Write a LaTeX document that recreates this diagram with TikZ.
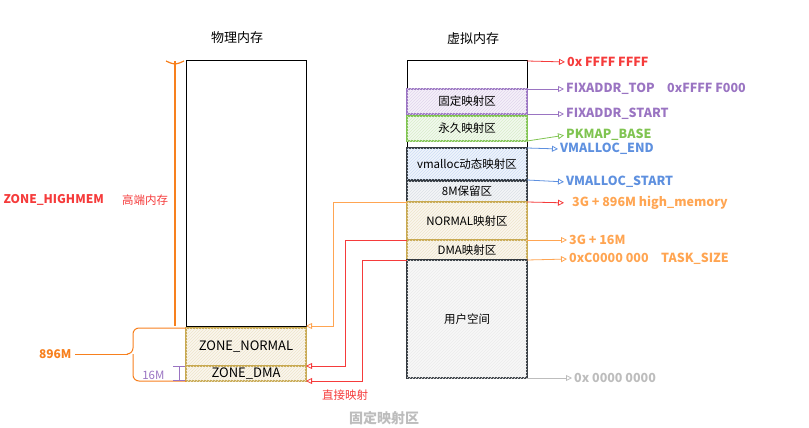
\documentclass[tikz,border=0pt]{standalone}
\usepackage{fontspec}
\setmainfont{Noto Sans CJK SC}
\usepackage{tikz}
\usetikzlibrary{arrows.meta,positioning,patterns,calc}
\definecolor{hotred}{HTML}{F53B3B}
\definecolor{deeporange}{HTML}{F7801E}
\definecolor{softorange}{HTML}{FFA552}
\definecolor{lilac}{HTML}{9A74C2}
\definecolor{leaf}{HTML}{80C451}
\definecolor{sky}{HTML}{5E90DF}
\definecolor{gold}{HTML}{C8A951}
\definecolor{ink}{HTML}{343A40}
\definecolor{ash}{HTML}{BDBDBD}
\definecolor{slate}{HTML}{8A9AB0}

\begin{document}
\begin{tikzpicture}[x=1pt,y=-1pt,font=\fontsize{11.5}{13}\selectfont,
  region/.style={draw=#1,line width=1.1pt,minimum width=120pt,inner sep=0pt,outer sep=0pt},
  hatch/.style={fill=#1!10,postaction={pattern=north east lines,pattern color=#1!30}},
  latin/.style={font=\fontsize{13}{15}\selectfont},
  addr/.style={anchor=west,inner sep=0pt,font=\fontsize{12.5}{14}\selectfont\bfseries},
  tip/.style={-{Triangle[open,length=6pt,width=6pt]},line width=.8pt,shorten >=2pt}]
\useasboundingbox (0,0) rectangle (809,428);
\node (physTitle) at (237,38) {\fontsize{13}{15}\selectfont 物理内存};
\node (virtTitle) at (473,39) {\fontsize{13}{15}\selectfont 虚拟内存};
\node[region=black,line width=1pt,minimum height=265pt] (phys) at (246,193.5) {};
\node[region=gold,hatch=gold,latin,minimum height=38pt] (pnormal) at (246,347) {ZONE\_NORMAL};
\node[region=gold,hatch=gold,latin,minimum height=15pt] (pdma) at (246,373.5) {ZONE\_DMA};
\node[region=black,line width=1pt,minimum height=317pt] (virt) at (467,219.5) {};
\node[region=lilac,hatch=lilac,minimum height=25pt] (fixmap) at (467,101.5) {固定映射区};
\node[region=leaf,hatch=leaf,minimum height=25pt] (pkmap) at (467,128.5) {永久映射区};
\node[region=ink,hatch=sky,minimum height=32pt] (vmalloc) at (467,164) {vmalloc动态映射区};
\node[region=ink,hatch=slate,minimum height=21pt] (resv) at (467,191.5) {8M保留区};
\node[region=gold,hatch=gold,minimum height=38pt] (normal) at (467,221) {NORMAL映射区};
\node[region=gold,hatch=gold,minimum height=20pt] (dma) at (467,250) {DMA映射区};
\node[region=ink,hatch=ash,minimum height=118pt] (user) at (467,319) {用户空间};
\node[addr,hotred] (top) at (567,62) {0x FFFF FFFF};
\node[addr,lilac] (fixtop) at (566,89) {FIXADDR\_TOP\quad 0xFFFF F000};
\node[addr,lilac] (fixstart) at (566,114) {FIXADDR\_START};
\node[addr,leaf] (pkbase) at (566,135) {PKMAP\_BASE};
\node[addr,sky] (vmend) at (560,149) {VMALLOC\_END};
\node[addr,sky] (vmstart) at (566,182) {VMALLOC\_START};
\node[addr,softorange] (highmem) at (572,203) {3G + 896M high\_memory};
\node[addr,softorange] (off16) at (569,240) {3G + 16M};
\node[addr,softorange] (tasksize) at (569,259) {0xC0000 000\quad TASK\_SIZE};
\node[addr,ash] (zero) at (574,378) {0x 0000 0000};
\draw[tip,hotred] (virt.north east) -- (top.west);
\draw[tip,lilac] (fixmap.north east) -- (fixtop.west);
\draw[tip,lilac] (fixmap.south east) -- (fixstart.west);
\draw[tip,leaf] (pkmap.south east) -- (pkbase.west);
\draw[tip,sky] (vmalloc.north east) -- (vmend.west);
\draw[tip,sky] (vmalloc.south east) -- (vmstart.west);
\draw[tip,hotred,shorten >=8pt] (normal.north east) -- (highmem.west);
\draw[tip,softorange] (dma.north east) -- (off16.west);
\draw[tip,softorange] (dma.south east) -- (tasksize.west);
\draw[tip,ash] (user.south east) -- (zero.west);
\draw[tip,softorange,shorten >=0pt] (normal.north west) -- ++(-74,0) |- (phys.south east);
\draw[tip,hotred,shorten >=0pt] (normal.south west) -- ++(-62,0) |- (pnormal.south east);
\draw[tip,hotred,shorten >=0pt] (dma.south west) -- ++(-45,0) |- (pdma.south east);
\node[hotred] (direct) at (345,395) {直接映射};
\draw[deeporange,line width=2pt] ($(phys.north west)+(-11,0)$) -- ($(phys.south west)+(-11,0)$);
\draw[deeporange,line width=1.2pt] ($(phys.north west)+(-20,0)$) .. controls ($(phys.north west)+(-11,4)$) .. ($(phys.north west)+(-2,0)$);
\node[hotred,anchor=west,font=\fontsize{12}{14}\selectfont\bfseries] (hmlabel) at (0,200) {ZONE\_HIGHMEM};
\node[hotred] (hmcn) at (145,200) {高端内存};
\coordinate (bracetip) at (128,354);
\draw[deeporange,line width=1pt,rounded corners=6pt] (pnormal.north west) -- (133,328) -- (133,354) -- (bracetip);
\draw[deeporange,line width=1pt,rounded corners=6pt] (pdma.south west) -- (133,381) -- (133,354);
\node[deeporange,anchor=east,font=\fontsize{12}{14}\selectfont\bfseries] (size896) at (75,354) {896M};
\draw[deeporange,line width=1pt] (size896.east) -- (bracetip);
\draw[lilac,line width=.8pt,{Bar[width=12pt]}-{Bar[width=12pt]}] ($(pdma.north west)+(-7,0)$) -- ($(pdma.south west)+(-7,0)$);
\node[lilac,anchor=east] (size16) at (168,375) {16M};
\node[ash,font=\fontsize{14}{16}\selectfont\bfseries] (fixcap) at (384,418) {固定映射区};
\end{tikzpicture}
\end{document}
